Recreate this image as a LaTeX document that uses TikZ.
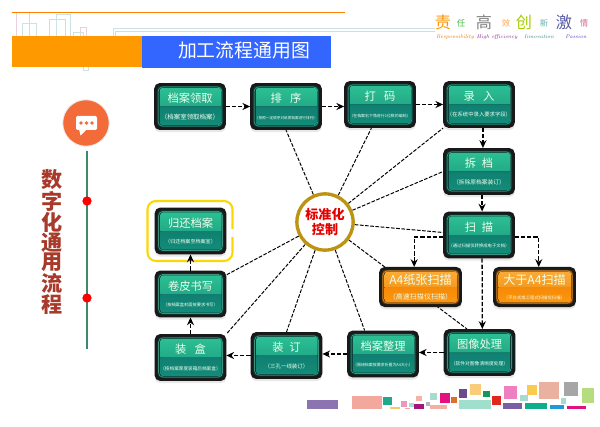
\documentclass[tikz,border=0pt]{standalone}
\usepackage{fontspec}
\newfontfamily\cjk{Noto Sans CJK SC}
\usetikzlibrary{arrows.meta,backgrounds,shadows}
\definecolor{tealA}{HTML}{2FC496}
\definecolor{tealB}{HTML}{22AA87}
\definecolor{tealC}{HTML}{107F71}
\definecolor{tealD}{HTML}{14907C}
\definecolor{orangeA}{HTML}{FBB040}
\definecolor{orangeB}{HTML}{F79A1E}
\definecolor{orangeC}{HTML}{F58A08}
\definecolor{orangeD}{HTML}{FF9A12}
\definecolor{ringgold}{HTML}{BC9412}
\definecolor{stemgreen}{HTML}{3C8A6A}
\definecolor{bubble}{HTML}{F26B38}
\definecolor{palepink}{HTML}{EBCFDD}
\definecolor{paleteal}{HTML}{CDE3E3}
\definecolor{barblue}{HTML}{3366FF}
\definecolor{barorange}{HTML}{FF9900}
\definecolor{sidered}{HTML}{A83A2C}
\tikzset{
    boxbase/.style n args={4}{fill=black!90,rounded corners=4pt,inner sep=0pt,outer sep=0pt,
        minimum width=51pt,minimum height=33.4pt,align=center,text=white!93!green,
        font=\cjk\fontsize{8}{11.5}\selectfont,
        drop shadow={shadow xshift=0pt,shadow yshift=-1.6pt,opacity=0.18},
        path picture={
            \fill[#3!45!black,rounded corners=3pt] ([shift={(2pt,-2pt)}]path picture bounding box.north west) rectangle ([shift={(-2pt,2pt)}]path picture bounding box.south east);
            \draw[#2!75!white,line width=0.3pt,rounded corners=3pt] ([shift={(2.8pt,-2.8pt)}]path picture bounding box.north west) rectangle ([shift={(-2.8pt,2.8pt)}]path picture bounding box.south east);
            \begin{scope}
                \clip[rounded corners=2pt] ([shift={(4pt,-3.4pt)}]path picture bounding box.north west) rectangle ([shift={(-3.4pt,3.4pt)}]path picture bounding box.south east);
                \shade[top color=#1,bottom color=#2] (path picture bounding box.north west) rectangle (path picture bounding box.east);
                \shade[top color=#3,bottom color=#4] (path picture bounding box.west) rectangle (path picture bounding box.south east);
            \end{scope}
        }},
    tealbox/.style={boxbase={tealA}{tealB}{tealC}{tealD}},
    orangebox/.style={boxbase={orangeA}{orangeB}{orangeC}{orangeD},minimum width=59pt,minimum height=28.5pt,font=\cjk\fontsize{8.6}{10.5}\selectfont},
    flow/.style={line width=0.9pt,dash pattern=on 3pt off 1.4pt,-{Stealth[length=5.5pt,width=5pt]}},
    spoke/.style={line width=0.7pt,dash pattern=on 2.6pt off 1.1pt},
    logotext/.style={inner sep=0pt,font=\cjk\fontsize{#1}{#1}\selectfont},
    scripttext/.style={inner sep=0pt,font=\itshape\fontsize{3.8}{3.8}\selectfont}
}
\newcommand\boxtext[3]{#1\\{\fontsize{#2}{#2}\selectfont #3}}
\begin{document}
\begin{tikzpicture}[x=0.025cm,y=-0.025cm]
    \useasboundingbox (0,0) rectangle (600,427);
    %% Header lines
    \draw[palepink,line width=0.5pt] (16,12) -- (16,36) (29,13) -- (29,36) (49,36) -- (49,19) -- (65,19) -- (65,36) (80,36) -- (80,27) -- (86,27) -- (86,36);
    \draw[paleteal,line width=0.5pt] (22,36) -- (22,23) -- (36,23) -- (36,36) (56,36) -- (56,14) -- (70,14) -- (70,36) (73,36) -- (73,32) -- (83,32) -- (83,36) (83,67) -- (83,70.5) -- (88,70.5) -- (88,67);
    \draw[paleteal,line width=0.6pt] (113,36) -- (113,28) -- (435,28);
    \draw[palepink,line width=0.6pt] (115,36) -- (115,31) -- (435,31);
    \draw[orange,line width=0.8pt] (12,12.5) -- (345,12.5);
    %% Title bar
    \fill[barblue] (142,36) rectangle (331,68);
    \fill[barorange] (12,36) rectangle (142,67);
    \node[inner sep=0pt,text=white,font=\cjk\fontsize{13.4}{13.4}\selectfont] (title) at (244,50) {加工流程通用图};
    %% Logo
    \node[logotext=11.5,text=orange!85!yellow] (duty) at (443,22) {责};
    \node[logotext=6,text=green!45!gray] (duty2) at (461,23) {任};
    \node[logotext=11.5,text=gray] (high) at (484,22) {高};
    \node[logotext=6,text=orange!70!white] (high2) at (506,23) {效};
    \node[logotext=11.5,text=lime!60!olive] (new) at (524,22) {创};
    \node[logotext=6,text=teal!60!white] (new2) at (544,23) {新};
    \node[logotext=11.5,text=blue!30!gray] (fire) at (564,22) {激};
    \node[logotext=6,text=purple!60!white] (fire2) at (584,23) {情};
    \node[scripttext,text=orange!90!black] (resp) at (455,37) {Responsibility};
    \node[scripttext,text=violet!70!gray] (effi) at (497,37) {High efficiency};
    \node[scripttext,text=teal!70!gray] (inno) at (539,37) {Innovation};
    \node[scripttext,text=blue!50!gray] (pass) at (576,37) {Passion};
    %% Left column
    \coordinate (stemtop) at (87,151);
    \coordinate (stembot) at (87,349);
    \draw[stemgreen,line width=1.1pt] (stemtop) -- (stembot);
    \node[circle,fill=red,inner sep=0pt,minimum size=6.6pt] (dota) at (87,201) {};
    \node[circle,fill=red,inner sep=0pt,minimum size=6.6pt] (dotb) at (87,298) {};
    \node[circle,fill=bubble,draw=black!8,line width=0.6pt,inner sep=0pt,minimum size=33pt] (talk) at (86,123) {};
    \fill[white,rounded corners=1pt] (76,116) rectangle (97,130);
    \fill[white] (79,129) -- (80.5,135.5) -- (87,129) -- cycle;
    \foreach \x in {81,86.5,92} \fill[bubble] (\x,123) circle (1.4pt);
    \node[inner sep=0pt,align=center,text=sidered,font=\cjk\bfseries\fontsize{15}{14}\selectfont] (side) at (52,242) {数\\字\\化\\通\\用\\流\\程};
    %% Steps
    \node[tealbox] (get) at (190,106.5) {\boxtext{档案领取}{4.6}{（档案室领取档案）}};
    \node[tealbox] (sort) at (286,106.5) {\boxtext{排\hspace{6pt}序}{2.6}{（按照一定顺序对纸质档案进行排列）}};
    \node[tealbox] (code) at (380,104.5) {\boxtext{打\hspace{6pt}码}{2.8}{（在档案右下角进行1位数的编码）}};
    \node[tealbox] (entry) at (479,104.5) {\boxtext{录\hspace{6pt}入}{3.8}{（在系统中录入要求字段）}};
    \node[tealbox] (split) at (479,171.5) {\boxtext{拆\hspace{4pt}档}{4.1}{（拆除原档案装订）}};
    \node[tealbox] (scan) at (479,235) {\boxtext{扫\hspace{4pt}描}{3.1}{（通过扫描仪转换成电子文档）}};
    \node[orangebox] (small) at (420.5,287) {\boxtext{A4纸张扫描}{5}{（高速扫描仪扫描）}};
    \node[orangebox] (large) at (534.5,287) {\boxtext{大于A4扫描}{3.1}{（平台式或工程式扫描仪扫描）}};
    \node[tealbox] (image) at (479.5,352.5) {\boxtext{图像处理}{3.4}{（软件对图像清晰度处理）}};
    \node[tealbox] (tidy) at (383,354) {\boxtext{档案整理}{2.8}{（围绕档案按要求折叠为A4大小）}};
    \node[tealbox] (bind) at (286.5,355.5) {\boxtext{装\hspace{4pt}订}{3.9}{（三孔一线装订）}};
    \node[tealbox] (pack) at (190.5,357.5) {\boxtext{装\hspace{6pt}盒}{3.3}{（按档案厚度装箱后档案盒）}};
    \node[tealbox] (roll) at (190.5,294) {\boxtext{卷皮书写}{3}{（按档案盒封面按要求书写）}};
    \node[tealbox] (back) at (190.5,231) {\boxtext{归还档案}{3.6}{（归还档案至档案室）}};
    %% Center
    \node[circle,draw=ringgold,fill=white,line width=2.4pt,inner sep=0pt,minimum size=40pt,align=center,text=red!90!black,font=\cjk\bfseries\fontsize{9.3}{10.8}\selectfont] (ctrl) at (325,222) {标准化\\控制};
    %% Spokes
    \begin{scope}[on background layer]
        \draw[spoke] (ctrl) -- (sort.south);
        \draw[spoke] (ctrl) -- (code.-110);
        \draw[spoke] (ctrl) -- (entry.south west);
        \draw[spoke] (ctrl) -- (split.west);
        \draw[spoke] (ctrl) -- (scan.176);
        \draw[spoke] (ctrl) -- (image.118);
        \draw[spoke] (ctrl) -- (tidy.128);
        \draw[spoke] (ctrl) -- (bind.north);
        \draw[spoke] (ctrl) -- (pack.north east);
        \draw[spoke] (ctrl) -- (roll.28);
    \end{scope}
    %% Flow
    \draw[flow] (get.east) -- (sort.west);
    \draw[flow] (sort.east) -- (sort.east -| code.west);
    \draw[flow] (code.east) -- (entry.west);
    \draw[flow] ([xshift=2.8pt]entry.south) -- ([xshift=2.8pt]split.north);
    \draw[flow] ([xshift=2.2pt]split.south) -- ([xshift=2.2pt]scan.north);
    \draw[flow] ([yshift=-1.4pt]scan.west) -| ([xshift=-4.5pt]small.north);
    \draw[flow] ([yshift=-1.4pt]scan.east) -| ([xshift=3pt]large.north);
    \draw[flow] ([xshift=2.2pt]scan.south) -- ([xshift=2pt]image.north);
    \draw[flow] (image.west) -- (image.west -| tidy.east);
    \draw[flow] (tidy.west) -- (tidy.west -| bind.east);
    \draw[flow] (bind.west) -- (bind.west -| pack.east);
    \draw[flow] (pack.north) -- (roll.south);
    %% Return bracket
    \draw[yellow!75!orange,line width=1.5pt,rounded corners=6pt] (232.5,229) -- (232.5,201) -- (147.5,201) -- (147.5,261) -- (232.5,261) -- (232.5,237);
    \draw[flow] (roll.north) -- (back.south);
    %% Color strip
    \foreach \xa/\ya/\xb/\yb/\tone in {307/400/338/409/8C74B0,352/396/382/409/F3A89E,383/397/392/405/1FA98A,390/407/400/409/F7C873,401/401/407/407/E79ABB,405/408/410/409/F3A89E,409/403/414/407/A6DCCF,414/404/424/409/A5137F,416/396/422/401/F3B3A8,426/402/430/406/B5B5B5,430/405/447/409/F4AFA5,430/393/437/400/A6DCCF,440/393/450/403/E3127F,451/397/457/403/D9702B,459/389/467/398/6A4C8C,459/400/491/409/9FDFCC,470/384/481/395/F8CC78,483/391/490/397/0F9A5A,492/396/501/405/E0281E,504/386/517/399/EE7FC0,503/403/522/409/7B5FA5,520/395/528/401/A6DCCF,527/385/537/395/FBCB4E,525/403/547/409/0FAE8A,539/382/559/399/EAB0A0,550/405/564/409/1E9AD8,561/398/566/404/A6DCCF,564/382/578/396/A6A6A6,567/406/586/409/E0107F,582/388/594/403/B5DD80} {
        \definecolor{stripcolor}{HTML}{\tone}
        \fill[stripcolor] (\xa,\ya) rectangle (\xb,\yb);
    }
\end{tikzpicture}
\end{document}
